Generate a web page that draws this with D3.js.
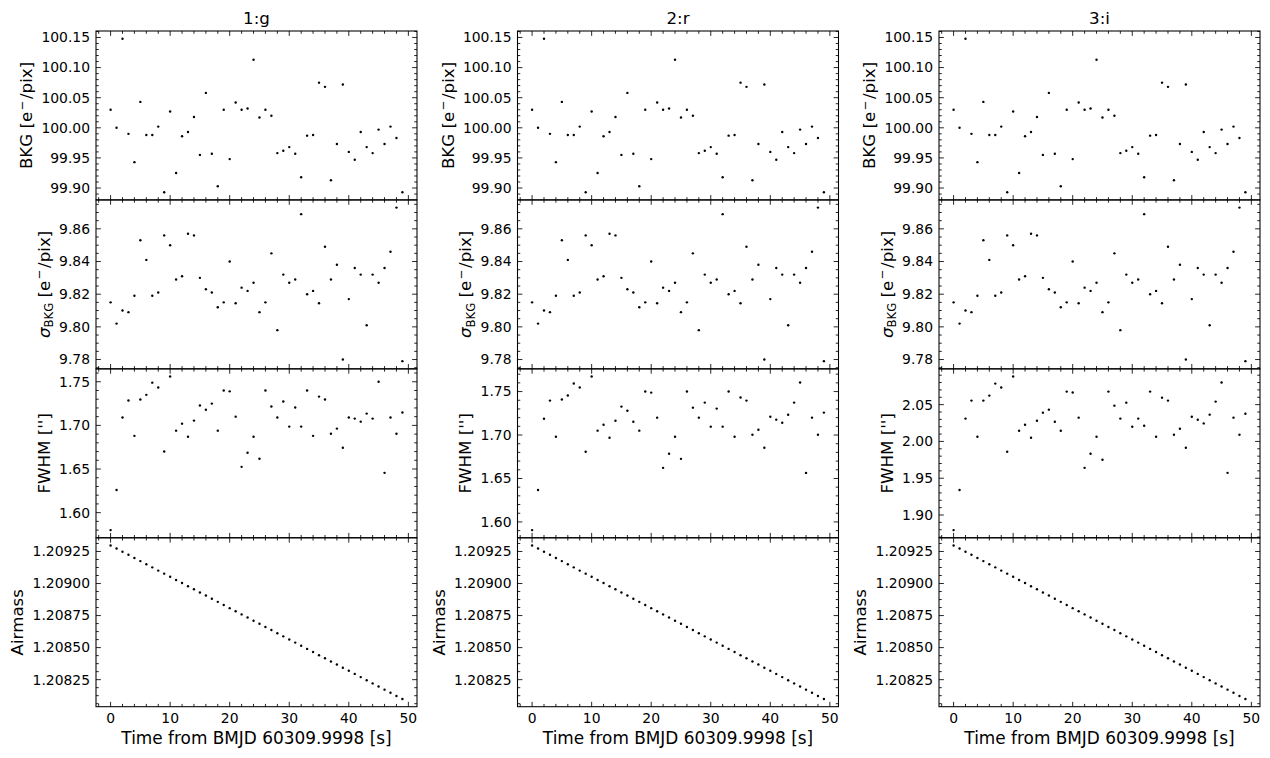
<!DOCTYPE html>
<html><head><meta charset="utf-8">
<script src="https://cdn.jsdelivr.net/npm/d3@7"></script>
<style>
body{margin:0;background:#fff}
text{font-family:"DejaVu Sans",sans-serif;fill:#000}
</style>
</head><body>
<svg id="c" width="1270" height="758"></svg>
<script>
// ---------------- data ----------------
const bands = ["1:g", "2:r", "3:i"];
const times = [0,1,2,3,4,5,6,7,8,9,10,11,12,13,14,15,16,17,18,19,20,21,22,23,24,25,26,27,28,29,30,31,32,33,34,35,36,37,38,39,40,41,42,43,44,45,46,47,48,49];
const bkg = [100.030,100.000,100.148,99.990,99.943,100.043,99.988,99.988,100.002,99.893,
             100.027,99.925,99.986,99.993,100.018,99.955,100.058,99.957,99.903,100.030,
             99.948,100.042,100.030,100.032,100.113,100.017,100.030,100.020,99.958,99.962,
             99.968,99.957,99.918,99.987,99.988,100.075,100.068,99.913,99.973,100.072,
             99.960,99.947,99.993,99.968,99.958,99.997,99.973,100.002,99.983,99.893];
const sigmaBkg = [9.815,9.802,9.810,9.809,9.819,9.853,9.841,9.819,9.821,9.856,
                  9.850,9.829,9.831,9.857,9.856,9.830,9.823,9.821,9.812,9.815,
                  9.840,9.8145,9.824,9.822,9.827,9.809,9.815,9.845,9.798,9.832,
                  9.827,9.829,9.869,9.820,9.822,9.8145,9.849,9.829,9.838,9.780,
                  9.817,9.836,9.832,9.801,9.832,9.827,9.836,9.846,9.873,9.779];
const fwhmG = [1.580,1.626,1.709,1.7285,1.688,1.7297,1.735,1.749,1.7435,1.670,
               1.756,1.694,1.702,1.687,1.7055,1.7228,1.718,1.725,1.694,1.740,
               1.739,1.710,1.6525,1.6687,1.687,1.6617,1.740,1.7216,1.709,1.7274,
               1.6986,1.7205,1.6986,1.740,1.688,1.733,1.7297,1.6905,1.6963,1.6744,
               1.709,1.7078,1.7043,1.7135,1.7078,1.750,1.6456,1.709,1.6905,1.7147];
const fwhmR = [1.5906,1.6368,1.7188,1.7396,1.698,1.7408,1.7454,1.7592,1.7546,1.6807,
               1.7673,1.705,1.7119,1.6969,1.7165,1.7327,1.728,1.7153,1.705,1.750,
               1.7488,1.720,1.6622,1.6784,1.698,1.6726,1.750,1.7315,1.720,1.7373,
               1.7096,1.7304,1.7096,1.750,1.698,1.7431,1.7396,1.7003,1.7061,1.6853,
               1.7211,1.7177,1.7142,1.7234,1.7373,1.7604,1.6564,1.720,1.7003,1.7258];
const fwhmI = [1.8795,1.934,2.031,2.0555,2.0064,2.0555,2.0623,2.0786,2.0732,1.9859,
               2.0882,2.0145,2.0227,2.005,2.0282,2.0391,2.0432,2.0268,2.0145,2.0677,
               2.0664,2.0323,1.9641,1.9832,2.0064,1.975,2.0677,2.0486,2.031,2.0527,
               2.020,2.031,2.0214,2.0677,2.0064,2.0595,2.0555,2.0091,2.0173,1.9914,
               2.0336,2.0295,2.0245,2.0364,2.0541,2.080,1.9573,2.0323,2.0091,2.0377];
const airmass = [1.209297,1.209273,1.209248,1.209224,1.209199,1.209175,1.209150,1.209126,1.209101,1.209077,
                 1.209053,1.209028,1.209004,1.208979,1.208955,1.208930,1.208906,1.208881,1.208857,1.208832,
                 1.208808,1.208784,1.208759,1.208735,1.208710,1.208686,1.208661,1.208637,1.208612,1.208588,
                 1.208563,1.208539,1.208515,1.208490,1.208466,1.208441,1.208417,1.208392,1.208368,1.208343,
                 1.208319,1.208295,1.208270,1.208246,1.208221,1.208197,1.208172,1.208148,1.208123,1.208099];

const xTicks = [0, 10, 20, 30, 40, 50];
const bkgTicks = [99.90, 99.95, 100.00, 100.05, 100.10, 100.15];
const sigmaTicks = [9.78, 9.80, 9.82, 9.84, 9.86];
const fwhmTicksGR = [1.60, 1.65, 1.70, 1.75];
const fwhmTicksI = [1.90, 1.95, 2.00, 2.05];
const airmassTicks = [1.20825, 1.20850, 1.20875, 1.20900, 1.20925];
const xLabel = "Time from BMJD 60309.9998 [s]";

// ---------------- layout ----------------
const svg = d3.select("#c");
svg.append("rect").attr("width",1270).attr("height",758).attr("fill","#fff");
const colLeft = [96, 517.5, 939];
const axW = 321;
const top0 = 31, bottom0 = 706.7;
const axH = (bottom0 - top0) / 4;
const tickFs = 13.9, labFs = 16.67;
const majLen = 4.86, minLen = 2.78, lw = 1.07;

function padDomain(arr){
  const [a,b] = d3.extent(arr); const m = (b-a)*0.05; return [a-m, b+m];
}
function minorVals(dom, step, majors){
  const out = [];
  const i0 = Math.ceil(dom[0]/step - 1e-9), i1 = Math.floor(dom[1]/step + 1e-9);
  for (let i=i0;i<=i1;i++){
    const v = i*step;
    if (majors.some(m => Math.abs(m - v) < step*1e-3)) continue;
    out.push(v);
  }
  return out;
}

const rowsDef = [
  {kind:"bkg", data:[bkg,bkg,bkg], ticks:[bkgTicks,bkgTicks,bkgTicks], minor:0.01, fmt:d3.format(".2f")},
  {kind:"sigma", data:[sigmaBkg,sigmaBkg,sigmaBkg], ticks:[sigmaTicks,sigmaTicks,sigmaTicks], minor:0.005, fmt:d3.format(".2f")},
  {kind:"fwhm", data:[fwhmG,fwhmR,fwhmI], ticks:[fwhmTicksGR,fwhmTicksGR,fwhmTicksI], minor:0.01, fmt:d3.format(".2f")},
  {kind:"air", data:[airmass,airmass,airmass], ticks:[airmassTicks,airmassTicks,airmassTicks], minor:0.0000625, fmt:d3.format(".5f")}
];

function addSup(t){
  t.append("tspan").attr("font-size", labFs*0.7).attr("dx", 1.5).attr("dy", -6.5).text("\u2212");
  t.append("tspan").attr("dx", 1.5).attr("dy", 6.5).text("/pix]");
}
function addLabel(t, kind){
  if (kind === "bkg"){
    t.append("tspan").text("BKG [e");
    addSup(t);
  } else if (kind === "sigma"){
    t.append("tspan").attr("font-style","italic").text("\u03c3");
    t.append("tspan").attr("font-size", labFs*0.7).attr("dy", 3.5).text("BKG");
    t.append("tspan").attr("dy", -3.5).text(" [e");
    addSup(t);
  } else if (kind === "fwhm"){
    t.text("FWHM ['']");
  } else {
    t.text("Airmass");
  }
}

bands.forEach((band, ci) => {
  const x0 = colLeft[ci];
  const xs = d3.scaleLinear().domain(padDomain(times)).range([x0, x0+axW]);
  svg.append("text").attr("x", x0+axW/2).attr("y", top0-7.5).attr("text-anchor","middle")
     .attr("font-size", labFs).text(band);
  rowsDef.forEach((row, ri) => {
    const y0 = top0 + ri*axH, y1 = y0 + axH;
    const vals = row.data[ci];
    const ys = d3.scaleLinear().domain(padDomain(vals)).range([y1, y0]);
    const g = svg.append("g");
    g.selectAll("circle").data(times).enter().append("circle")
      .attr("cx", d => xs(d)).attr("cy", (d,i) => ys(vals[i])).attr("r", 1.2).attr("fill","#000");
    const yMaj = row.ticks[ci];
    const yMin = minorVals(ys.domain(), row.minor, yMaj);
    const xMin = minorVals(xs.domain(), 2, xTicks);
    const tk = g.append("g").attr("stroke","#000").attr("stroke-width", 0.85);
    const addY = (arr, len) => arr.forEach(v => {
      const y = ys(v);
      tk.append("line").attr("x1",x0).attr("x2",x0+len).attr("y1",y).attr("y2",y);
      tk.append("line").attr("x1",x0+axW).attr("x2",x0+axW-len).attr("y1",y).attr("y2",y);
    });
    const addX = (arr, len) => arr.forEach(v => {
      const x = xs(v);
      tk.append("line").attr("x1",x).attr("x2",x).attr("y1",y1).attr("y2",y1-len);
      tk.append("line").attr("x1",x).attr("x2",x).attr("y1",y0).attr("y2",y0+len);
    });
    addY(yMaj, majLen); addY(yMin, minLen); addX(xTicks, majLen); addX(xMin, minLen);
    g.append("rect").attr("x",x0).attr("y",y0).attr("width",axW).attr("height",axH)
      .attr("fill","none").attr("stroke","#000").attr("stroke-width",lw);
    const tl = g.append("g");
    yMaj.forEach(v => {
      tl.append("text").attr("x", x0-6).attr("y", ys(v)).attr("dy","0.35em")
        .attr("text-anchor","end").attr("font-size", tickFs).text(row.fmt(v));
    });
    const bb = tl.node().getBBox();
    const lx = bb.x - 9.3;
    const lab = g.append("text").attr("transform", `translate(${lx},${(y0+y1)/2}) rotate(-90)`)
      .attr("text-anchor","middle").attr("font-size", labFs);
    addLabel(lab, row.kind);
    if (ri === 3){
      xTicks.forEach(v => {
        g.append("text").attr("x", xs(v)).attr("y", y1+16.2).attr("text-anchor","middle")
          .attr("font-size", tickFs).text(v);
      });
      g.append("text").attr("x", x0+axW/2).attr("y", y1+37).attr("text-anchor","middle")
        .attr("font-size", 16.9).text(xLabel);
    }
  });
});
</script>
</body></html>
